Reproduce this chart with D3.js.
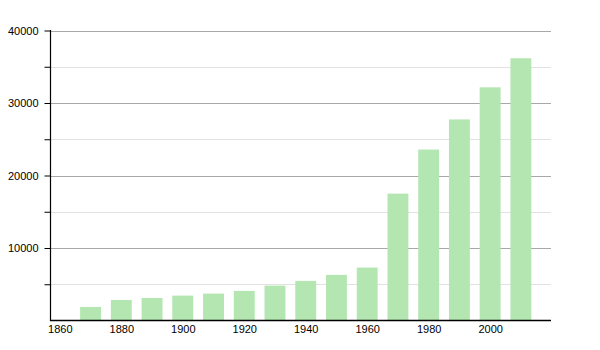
<!DOCTYPE html>
<html><head><meta charset="utf-8">
<script src="https://cdn.jsdelivr.net/npm/d3@7"></script>
<style>body{margin:0;background:#fff}svg{display:block}text{font-family:"Liberation Sans",Arial,sans-serif;font-size:11px;fill:#000}</style>
</head><body><svg id="c" width="600" height="350"></svg>
<script>
const years = [1870,1880,1890,1900,1910,1920,1930,1940,1950,1960,1970,1980,1990,2000,2010];
const population = [1870,2835,3110,3430,3710,4080,4810,5460,6290,7300,17500,23580,27730,32160,36170];
const xTicks = [1860,1880,1900,1920,1940,1960,1980,2000];
const yMajorTicks = [10000,20000,30000,40000];
const yMinorTicks = [5000,15000,25000,35000];

const svg = d3.select("#c");
const x = d3.scaleLinear().domain([1856.8, 2019.8]).range([50, 551]);
const y = d3.scaleLinear().domain([0, 40000]).range([320.5, 30.5]);
const halfW = 3.4;

// minor gridlines
svg.append("g").selectAll("line").data(yMinorTicks).join("line")
  .attr("x1", 50).attr("x2", 551).attr("y1", d => Math.round(y(d))+0.5).attr("y2", d => Math.round(y(d))+0.5)
  .attr("stroke", "#e2e2e2");
// major gridlines
svg.append("g").selectAll("line").data(yMajorTicks).join("line")
  .attr("x1", 50).attr("x2", 551).attr("y1", d => Math.round(y(d))+0.5).attr("y2", d => Math.round(y(d))+0.5)
  .attr("stroke", "#a8a8a8");

// bars
svg.append("g").selectAll("rect").data(years).join("rect")
  .attr("x", d => x(d - halfW)).attr("width", d => x(d + halfW) - x(d - halfW))
  .attr("y", (d,i) => y(population[i])).attr("height", (d,i) => y(0) - y(population[i]))
  .attr("fill", "#b3e6b1");

// y axis
const yAxis = d3.axisLeft(y).tickValues(yMajorTicks.concat(yMinorTicks))
  .tickFormat(d => yMajorTicks.includes(d) ? d : "").tickSize(6).tickPadding(6);
const ga = svg.append("g").attr("transform", "translate(50.5,0)").call(yAxis);
ga.select(".domain").remove();
ga.selectAll("line").attr("stroke", "#000");
ga.selectAll("text").style("font-family", '"Liberation Sans",Arial,sans-serif').style("font-size","11px");
svg.append("line").attr("x1",50.5).attr("x2",50.5).attr("y1",30).attr("y2",321).attr("stroke","#000").attr("stroke-width",1.2);

// x axis
const xAxis = d3.axisBottom(x).tickValues(xTicks).tickFormat(d3.format("d")).tickSize(0).tickPadding(5);
const gx = svg.append("g").attr("transform", "translate(0,320.5)").call(xAxis);
gx.select(".domain").remove();
gx.selectAll("text").style("font-family", '"Liberation Sans",Arial,sans-serif').style("font-size","11px");
svg.append("line").attr("x1",50).attr("x2",551).attr("y1",320.5).attr("y2",320.5).attr("stroke","#000").attr("stroke-width",1.5);
</script></body></html>
